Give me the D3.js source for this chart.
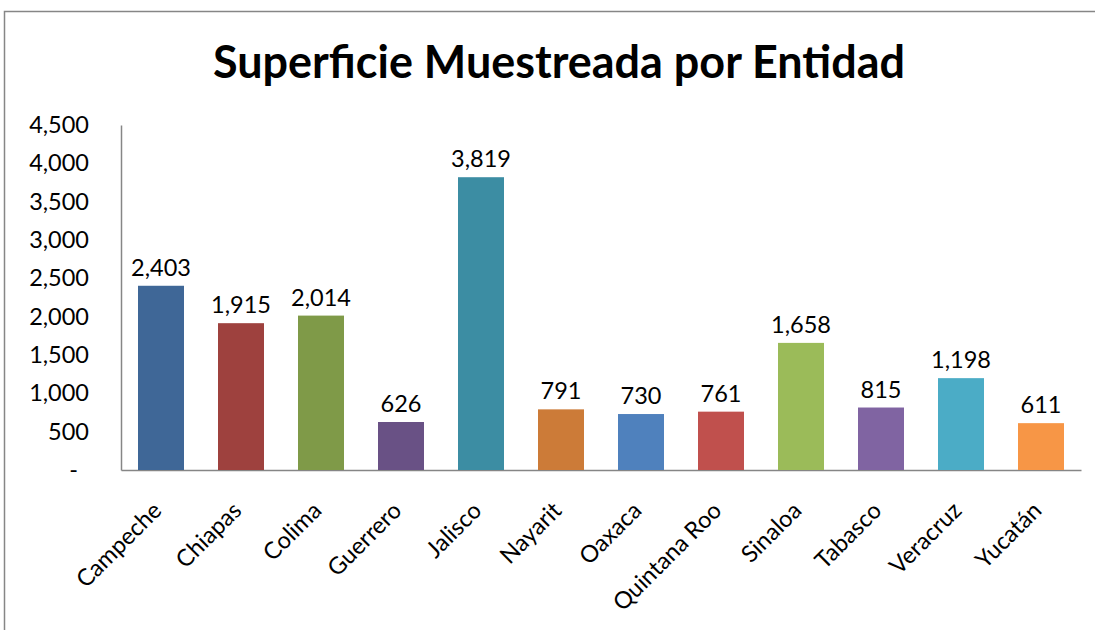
<!DOCTYPE html>
<html>
<head>
<meta charset="utf-8">
<script src="https://cdn.jsdelivr.net/npm/d3@7"></script>
<style>
  body { margin: 0; background: #fff; overflow: hidden; }
  svg { display: block; }
  text { font-family: Lato, "Open Sans", sans-serif; fill: #000; }
</style>
</head>
<body>
<div id="chart"></div>
<script>
// data
var states = ["Campeche", "Chiapas", "Colima", "Guerrero", "Jalisco", "Nayarit",
              "Oaxaca", "Quintana Roo", "Sinaloa", "Tabasco", "Veracruz", "Yucatán"];
var surface = [2403, 1915, 2014, 626, 3819, 791, 730, 761, 1658, 815, 1198, 611];
var barColors = ["#3F6797", "#9E413E", "#7F9A48", "#695185", "#3C8DA3", "#CC7B38",
                 "#4F81BD", "#C0504D", "#9BBB59", "#8064A2", "#4BACC6", "#F79646"];
var yTicks = [0, 500, 1000, 1500, 2000, 2500, 3000, 3500, 4000, 4500];
var title = "Superficie Muestreada por Entidad";

var W = 1095, H = 630;
var margin = {top: 125, right: 14, bottom: 160, left: 121},
    width = W - margin.left - margin.right,
    height = H - margin.top - margin.bottom;

var fontSize = 23.5;

var svg = d3.select("#chart")
            .append("svg")
              .attr("width", W)
              .attr("height", H);

// outer frame (only top and left edges fall inside the picture)
svg.append("path")
   .attr("d", "M4.5," + (H + 10) + "V11.5H" + (W + 10))
   .attr("fill", "none")
   .attr("stroke", "#868686")
   .attr("stroke-width", 1.5);

svg.append("text")
   .attr("x", 559)
   .attr("y", 78)
   .attr("text-anchor", "middle")
   .attr("font-size", 46)
   .attr("font-weight", "bold")
   .attr("textLength", 692)
   .attr("lengthAdjust", "spacingAndGlyphs")
   .text(title);

var chart = svg.append("g")
               .attr("transform", "translate(" + margin.left + "," + margin.top + ")");

// scales
var x = d3.scaleBand()
          .domain(states)
          .range([0, width])
          .paddingInner(0.425)
          .paddingOuter(0.2125);

var y = d3.scaleLinear()
          .domain([0, 4500])
          .range([height, 0]);

// y axis
var yAxis = d3.axisLeft(y)
              .tickValues(yTicks)
              .tickSize(0)
              .tickPadding(32)
              .tickFormat(function(d) { return d === 0 ? "-" : d3.format(",")(d); });

var gy = chart.append("g").call(yAxis);
gy.select(".domain").attr("stroke", "#868686").attr("stroke-width", 1.5);
gy.selectAll("text")
  .attr("font-size", fontSize)
  .attr("font-family", "Lato, sans-serif")
  .attr("fill", "#000")
  .attr("dx", function(d) { return d === 0 ? -11 : 0; });

// x axis
var xAxis = d3.axisBottom(x).tickSize(0).tickSizeOuter(0).tickFormat("");
var gx = chart.append("g")
              .attr("transform", "translate(0," + height + ")")
              .call(xAxis);
gx.select(".domain").attr("stroke", "#868686").attr("stroke-width", 1.5);

// bars
chart.selectAll(".bar")
  .data(surface)
.enter().append("rect")
  .attr("class", "bar")
  .attr("x", function(d, i) { return x(states[i]); })
  .attr("y", function(d) { return y(d); })
  .attr("width", x.bandwidth())
  .attr("height", function(d) { return height - y(d); })
  .attr("fill", function(d, i) { return barColors[i]; });

// value labels
chart.selectAll(".val")
  .data(surface)
.enter().append("text")
  .attr("class", "val")
  .attr("x", function(d, i) { return x(states[i]) + x.bandwidth() / 2; })
  .attr("y", function(d) { return y(d) - 10; })
  .attr("text-anchor", "middle")
  .attr("font-size", fontSize)
  .text(function(d) { return d3.format(",")(d); });

// category labels
chart.selectAll(".cat")
  .data(states)
.enter().append("text")
  .attr("class", "cat")
  .attr("text-anchor", "end")
  .attr("font-size", fontSize)
  .attr("transform", function(d) {
    return "translate(" + (x(d) + x.bandwidth() / 2 + 2) + "," + (height + 42) + ") rotate(-45)";
  })
  .text(function(d) { return d; });
</script>
</body>
</html>
